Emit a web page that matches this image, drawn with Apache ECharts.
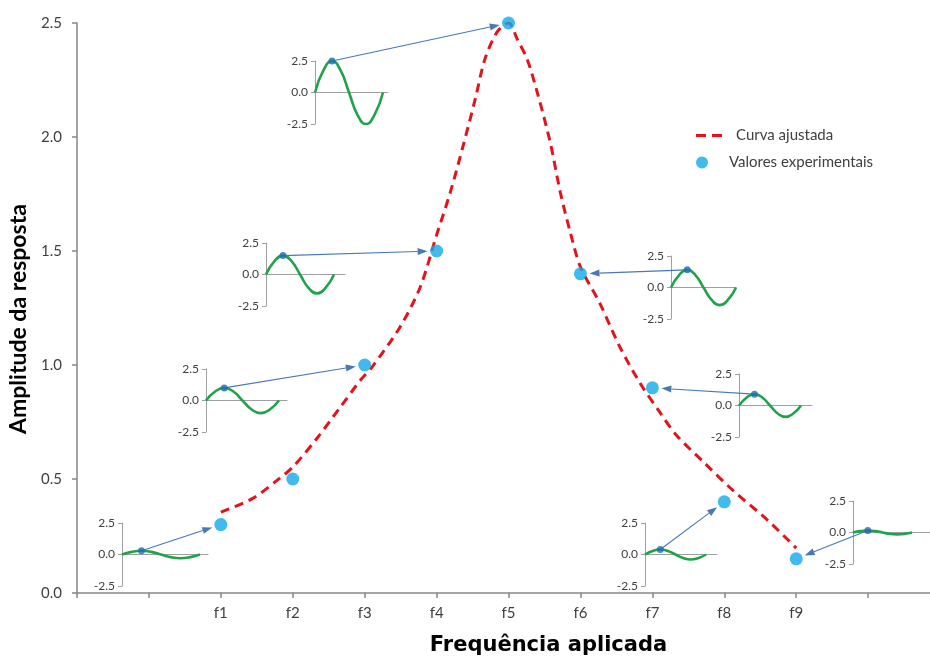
<!DOCTYPE html>
<html>
<head>
<meta charset="utf-8">
<script src="https://cdn.jsdelivr.net/npm/echarts@6/dist/echarts.min.js"></script>
<style>
html,body{margin:0;padding:0;background:#fff;}
#chart{width:930px;height:657px;}
</style>
</head>
<body>
<div id="chart"></div>
<script>
// ---------- data ----------
const categories = ['f1', 'f2', 'f3', 'f4', 'f5', 'f6', 'f7', 'f8', 'f9'];
const experimental = [0.3, 0.5, 1.0, 1.5, 2.5, 1.4, 0.9, 0.4, 0.15];

// fitted curve (frequency position: f1 = 1 ... f9 = 9)
const curveFreq = [1.0, 1.45, 1.82, 2.0, 2.34, 2.66, 2.94, 3.1, 3.49, 3.77, 4.0, 4.19, 4.37, 4.54, 4.67, 4.84, 5.0,
                   5.12, 5.26, 5.4, 5.58, 5.72, 5.86, 6.0, 6.27, 6.55, 6.83, 7.11, 7.34, 7.71, 8.12, 8.6, 9.0];
const curveAmp  = [0.355, 0.416, 0.504, 0.552, 0.68, 0.815, 0.933, 0.99, 1.166, 1.34, 1.57, 1.757, 1.963, 2.17, 2.34, 2.46, 2.5,
                   2.43, 2.34, 2.195, 1.976, 1.757, 1.58, 1.43, 1.27, 1.078, 0.92, 0.79, 0.69, 0.575, 0.45, 0.32, 0.197];

// small response signals (one period, sampled every 1/8 period)
const insetFor = ['f1', 'f3', 'f4', 'f5', 'f6', 'f7', 'f8', 'f9'];
const waveF1 = [0, 0.21, 0.3, 0.21, 0, -0.21, -0.3, -0.21, 0];
const waveF3 = [0, 0.71, 1.0, 0.71, 0, -0.71, -1.0, -0.71, 0];
const waveF4 = [0, 1.06, 1.5, 1.06, 0, -1.06, -1.5, -1.06, 0];
const waveF5 = [0, 1.77, 2.5, 1.77, 0, -1.77, -2.5, -1.77, 0];
const waveF6 = [0, 0.99, 1.4, 0.99, 0, -0.99, -1.4, -0.99, 0];
const waveF7 = [0, 0.64, 0.9, 0.64, 0, -0.64, -0.9, -0.64, 0];
const waveF8 = [0, 0.28, 0.4, 0.28, 0, -0.28, -0.4, -0.28, 0];
const waveF9 = [0, 0.11, 0.15, 0.11, 0, -0.11, -0.15, -0.11, 0];
const waves = [waveF1, waveF3, waveF4, waveF5, waveF6, waveF7, waveF8, waveF9];
const insetPeakIndex = 2;

// ---------- layout (positions / sizes only) ----------
const insetLayout = [
  {left: 122, top: 523, width: 86, xMax: 8.82},
  {left: 206, top: 369, width: 81, xMax: 8.88},
  {left: 266, top: 243, width: 79, xMax: 9.29},
  {left: 315, top: 61,  width: 73, xMax: 8.59},
  {left: 671, top: 256, width: 65, xMax: 8.0},
  {left: 739, top: 374, width: 73, xMax: 9.42},
  {left: 645, top: 523, width: 72, xMax: 9.44},
  {left: 853, top: 501, width: 77, xMax: 10.44}
];
const insetHeight = 63;

const FONT = 'Lato, "Open Sans", sans-serif';
const TXT = '#404040';
const RED = '#e2131d';
const PT = '#12a9ea';
const DOT = '#1f6cb5';
const GREEN = '#1fa24a';
const ARROW = '#4a78b4';

const chart = echarts.init(document.getElementById('chart'), null, {renderer: 'canvas'});

const grids = [{left: 77, top: 23, right: 0, bottom: 64, containLabel: false, outerBoundsMode: 'none'}];
const xAxes = [{
  type: 'value', gridIndex: 0, min: -1, max: 10.86, interval: 1,
  axisLine: {onZero: false, lineStyle: {color: '#868686', width: 1.5}},
  axisTick: {show: true, length: 5, lineStyle: {color: '#868686', width: 1.5}},
  axisLabel: {
    fontFamily: FONT, fontSize: 15, color: TXT, margin: 13, showMaxLabel: false,
    formatter: v => (Number.isInteger(v) && v >= 1 && v <= categories.length) ? categories[v - 1] : ''
  },
  splitLine: {show: false},
  name: 'Frequência aplicada', nameLocation: 'middle', nameGap: 42,
  nameTextStyle: {fontFamily: '"DejaVu Sans", sans-serif', fontSize: 21, fontWeight: 'bold', color: '#000', padding: [0, 0, 0, 90]}
}];
const yAxes = [{
  type: 'value', gridIndex: 0, min: 0, max: 2.5, interval: 0.5,
  axisLine: {show: true, onZero: false, lineStyle: {color: '#868686', width: 1.5}},
  axisTick: {show: true, length: 5, lineStyle: {color: '#868686', width: 1.5}},
  axisLabel: {fontFamily: FONT, fontSize: 15, color: TXT, margin: 15, formatter: v => v.toFixed(1)},
  splitLine: {show: false},
  name: 'Amplitude da resposta', nameLocation: 'middle', nameGap: 42, nameRotate: 90,
  nameTextStyle: {fontFamily: FONT, fontSize: 23, fontWeight: 'bold', color: '#000', padding: [0, 22, 0, 0]}
}];

const series = [
  {
    name: 'Curva ajustada', type: 'line', xAxisIndex: 0, yAxisIndex: 0,
    data: curveFreq.map((f, i) => [f, curveAmp[i]]),
    smooth: 0.3, symbol: 'none', z: 3,
    lineStyle: {color: RED, width: 3, type: [9, 6]},
    itemStyle: {color: RED}
  },
  {
    name: 'Valores experimentais', type: 'scatter', xAxisIndex: 0, yAxisIndex: 0,
    data: categories.map((c, i) => [i + 1, experimental[i]]),
    symbolSize: 13, z: 5,
    itemStyle: {color: PT}
  }
];

insetLayout.forEach((L, k) => {
  const gi = k + 1;
  grids.push({left: L.left, top: L.top, width: L.width, height: insetHeight, containLabel: false, outerBoundsMode: 'none'});
  xAxes.push({
    type: 'value', gridIndex: gi, min: 0, max: L.xMax,
    axisLine: {show: true, onZero: true, lineStyle: {color: '#a0a0a0', width: 1}},
    axisTick: {show: false}, axisLabel: {show: false}, splitLine: {show: false}
  });
  yAxes.push({
    type: 'value', gridIndex: gi, min: -2.5, max: 2.5, interval: 2.5,
    axisLine: {show: true, onZero: false, lineStyle: {color: '#a0a0a0', width: 1}},
    axisTick: {show: true, length: 4, lineStyle: {color: '#a0a0a0', width: 1}},
    axisLabel: {fontFamily: FONT, fontSize: 12, color: TXT, margin: 7, formatter: v => v.toFixed(1)},
    splitLine: {show: false}
  });
  const w = waves[k];
  series.push({
    type: 'line', xAxisIndex: gi, yAxisIndex: gi, silent: true,
    data: w.map((v, j) => [j, v]), smooth: 0.5, symbol: 'none', z: 4,
    lineStyle: {color: GREEN, width: 2.6}
  });
  series.push({
    type: 'scatter', xAxisIndex: gi, yAxisIndex: gi, silent: true,
    data: [[insetPeakIndex, w[insetPeakIndex]]], symbolSize: 7, z: 6,
    itemStyle: {color: DOT}
  });
});

chart.setOption({
  animation: false,
  backgroundColor: '#fff',
  textStyle: {fontFamily: FONT},
  grid: grids, xAxis: xAxes, yAxis: yAxes, series: series,
  legend: [
    {
      data: [{name: 'Curva ajustada', icon: 'path://M0,0 H10 V3 H0 Z M16,0 H26 V3 H16 Z'}],
      left: 691, top: 123, itemWidth: 26, itemHeight: 3,
      textStyle: {fontFamily: FONT, fontSize: 15, color: TXT, padding: [0, 0, 0, 9]},
      selectedMode: false
    },
    {
      data: [{name: 'Valores experimentais', icon: 'circle'}],
      left: 691, top: 150, itemWidth: 26, itemHeight: 12,
      textStyle: {fontFamily: FONT, fontSize: 15, color: TXT, padding: [0, 0, 0, 9]},
      selectedMode: false
    }
  ]
});

// arrows from each small signal's peak to the corresponding experimental point
const graphics = [];
insetFor.forEach((name, k) => {
  const fi = categories.indexOf(name);
  const w = waves[k];
  const p1 = chart.convertToPixel({gridIndex: k + 1}, [insetPeakIndex, w[insetPeakIndex]]);
  const p2 = chart.convertToPixel({gridIndex: 0}, [fi + 1, experimental[fi]]);
  const dx = p2[0] - p1[0], dy = p2[1] - p1[1];
  const len = Math.sqrt(dx * dx + dy * dy);
  const ux = dx / len, uy = dy / len;
  const tip = [p2[0] - ux * 9, p2[1] - uy * 9];
  const base = [tip[0] - ux * 10, tip[1] - uy * 10];
  const px = -uy * 3.5, py = ux * 3.5;
  graphics.push({
    type: 'line', z: 4, silent: true,
    shape: {x1: p1[0], y1: p1[1], x2: base[0], y2: base[1]},
    style: {stroke: ARROW, lineWidth: 1.1}
  });
  graphics.push({
    type: 'polygon', z: 4, silent: true,
    shape: {points: [tip, [base[0] + px, base[1] + py], [base[0] - px, base[1] - py]]},
    style: {fill: ARROW}
  });
});
chart.setOption({graphic: graphics});
</script>
</body>
</html>
